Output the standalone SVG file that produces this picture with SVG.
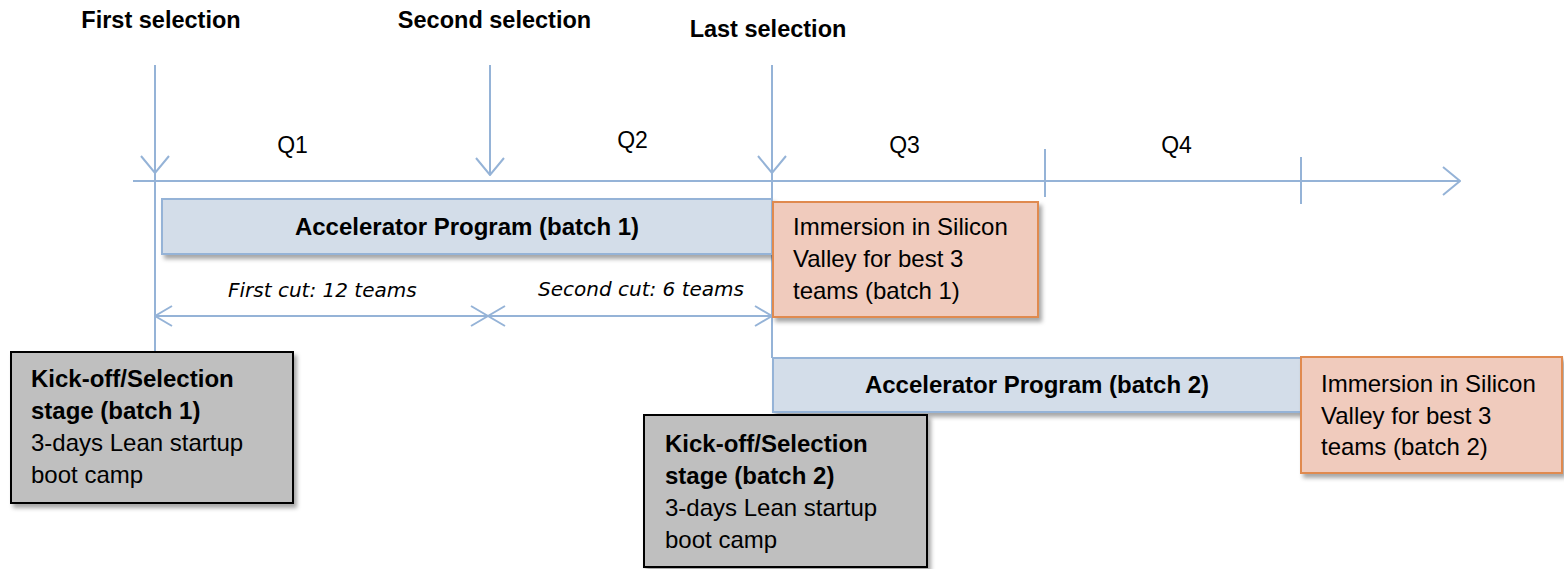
<svg xmlns="http://www.w3.org/2000/svg" width="1564" height="569" viewBox="0 0 1564 569">
<defs>
<style>
.ln{stroke:#95b3d7;stroke-width:2;fill:none}
.t{font-family:"Liberation Sans",Arial,sans-serif;fill:#000}
.b{font-weight:bold}
.hd{font-size:23.5px;font-weight:bold;text-anchor:middle}
.q{font-size:23px;text-anchor:middle}
.cut{font-family:"DejaVu Sans",sans-serif;font-style:italic;font-size:20px;fill:#000}
.acc{fill:#d3dde9;stroke:#95b3d7;stroke-width:2}
.imm{fill:#f0cbbd;stroke:#e08a50;stroke-width:2}
.kick{fill:#bfbfbf;stroke:#000;stroke-width:2}
.bx{font-size:24px}
</style>
<filter id="sh" x="-5%" y="-10%" width="115%" height="140%">
<feDropShadow dx="3" dy="4" stdDeviation="2" flood-color="#000" flood-opacity="0.35"/>
</filter>
<marker id="big" markerUnits="userSpaceOnUse" markerWidth="20" markerHeight="32" refX="17" refY="14" orient="auto" viewBox="-2 -2 20 32">
<path d="M0,0 L17,14 L0,28" fill="none" stroke="#95b3d7" stroke-width="2"/>
</marker>
<marker id="sm" markerUnits="userSpaceOnUse" markerWidth="20" markerHeight="24" refX="17" refY="10" orient="auto-start-reverse" viewBox="-2 -2 20 24">
<path d="M0,0 L17,10 L0,20" fill="none" stroke="#95b3d7" stroke-width="2"/>
</marker>
</defs>
<rect width="1564" height="569" fill="#fff"/>

<g id="labels">
<text class="t hd" x="161" y="28">First selection</text>
<text class="t hd" x="494.5" y="28">Second selection</text>
<text class="t hd" x="768" y="37">Last selection</text>
<text class="t q" x="292.5" y="153">Q1</text>
<text class="t q" x="632.5" y="148">Q2</text>
<text class="t q" x="904.5" y="153">Q3</text>
<text class="t q" x="1176.5" y="153">Q4</text>
<text class="cut" x="228" y="297">First cut: 12 teams</text>
<text class="cut" x="538" y="296">Second cut: 6 teams</text>
</g>

<g id="connectors">
<path class="ln" d="M133,181 H1460" marker-end="url(#big)"/>
<path class="ln" d="M1045,149 V197"/>
<path class="ln" d="M1301,157 V204"/>
<path class="ln" d="M155,65 V173" marker-end="url(#big)"/>
<path class="ln" d="M155,173 V352"/>
<path class="ln" d="M490,65 V175" marker-end="url(#big)"/>
<path class="ln" d="M772,65 V173" marker-end="url(#big)"/>
<path class="ln" d="M772,173 V358"/>
<path class="ln" d="M155,316 H488" marker-start="url(#sm)" marker-end="url(#sm)"/>
<path class="ln" d="M488,316 H772" marker-start="url(#sm)" marker-end="url(#sm)"/>
</g>

<g id="acc1">
<rect class="acc" x="162" y="199" width="610" height="55" filter="url(#sh)"/>
<text class="t b bx" x="467" y="235" text-anchor="middle">Accelerator Program (batch 1)</text>
</g>

<g id="imm1">
<rect class="imm" x="773" y="202" width="265" height="115" filter="url(#sh)"/>
<text class="t bx" x="793" y="235">Immersion in Silicon</text>
<text class="t bx" x="793" y="267">Valley for best 3</text>
<text class="t bx" x="793" y="299">teams (batch 1)</text>
</g>

<g id="acc2">
<rect class="acc" x="773" y="358" width="528" height="54" filter="url(#sh)"/>
<text class="t b bx" x="1037" y="393" text-anchor="middle">Accelerator Program (batch 2)</text>
</g>

<g id="imm2">
<rect class="imm" x="1301" y="357" width="261" height="116" filter="url(#sh)"/>
<text class="t bx" x="1321" y="392">Immersion in Silicon</text>
<text class="t bx" x="1321" y="424">Valley for best 3</text>
<text class="t bx" x="1321" y="455">teams (batch 2)</text>
</g>

<g id="kick1">
<rect class="kick" x="11" y="352" width="282" height="151" filter="url(#sh)"/>
<text class="t b bx" x="31" y="387">Kick-off/Selection</text>
<text class="t b bx" x="31" y="419">stage (batch 1)</text>
<text class="t bx" x="31" y="451">3-days Lean startup</text>
<text class="t bx" x="31" y="483">boot camp</text>
</g>

<g id="kick2">
<rect class="kick" x="644" y="415" width="283" height="152" filter="url(#sh)"/>
<text class="t b bx" x="665" y="452">Kick-off/Selection</text>
<text class="t b bx" x="665" y="484">stage (batch 2)</text>
<text class="t bx" x="665" y="516">3-days Lean startup</text>
<text class="t bx" x="665" y="548">boot camp</text>
</g>
</svg>
